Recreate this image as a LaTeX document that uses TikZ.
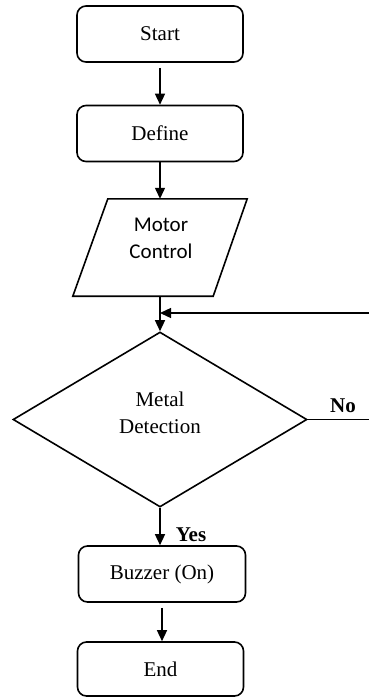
\documentclass[tikz,border=0pt]{standalone}
\usepackage{fontspec}
\setmainfont{Liberation Serif}
\newfontfamily\calibfont{Carlito}
\usetikzlibrary{shapes.geometric,arrows.meta}
\begin{document}
\begin{tikzpicture}[x=1pt,y=-1pt,
  box/.style={draw,rounded corners=9pt,line width=1.6pt,minimum width=166pt,minimum height=56pt,inner sep=0pt,font=\fontsize{21}{26}\selectfont},
  arr/.style={line width=1.3pt,-{Triangle[length=11pt,width=10pt]}},
  shp/.style={line width=1.6pt},
  txt/.style={align=center,inner sep=0pt,font=\fontsize{21}{27}\selectfont},
  lbl/.style={inner sep=0pt,font=\fontsize{21}{26}\selectfont\bfseries}]
\useasboundingbox (0,0) rectangle (368,697);
\node[box] (start) at (160,34) {Start};
\node[box] (def) at (160,133.5) {Define};
\node[minimum width=174pt,minimum height=97pt,inner sep=0pt] (mc) at (160,247.5) {};
\draw[shp] ([xshift=35pt]mc.north west) -- (mc.north east) -- ([xshift=-34pt]mc.south east) -- (mc.south west) -- cycle;
\node[txt,font=\fontsize{21}{27}\calibfont] (mctext) at (161,238.5) {Motor\\Control};
\node[draw,shp,diamond,minimum width=294pt,minimum height=175pt,inner sep=0pt] (det) at (160,419.5) {};
\node[txt] (dettext) at (160,412.5) {Metal\\Detection};
\node[box,minimum width=167pt] (buzz) at (162,574) {Buzzer (On)};
\node[box,minimum height=54pt] (end) at (160.5,669) {End};
\coordinate (loop) at (385,313);
\draw[arr,shorten <=5pt] (start.south) -- (def.north);
\draw[arr] (def.south) -- (mc.north);
\draw[arr] (mc.south) -- (det.north);
\draw[arr] (det.east) -- (det.east -| loop) -- (loop) -- (loop -| det.north);
\draw[arr] (det.south) -- (det.south |- buzz.north);
\draw[arr,shorten <=5pt] (buzz.south) -- (buzz.south |- end.north);
\node[lbl] (no) at (343,406) {No};
\node[lbl] (yes) at (191,535) {Yes};
\end{tikzpicture}
\end{document}
